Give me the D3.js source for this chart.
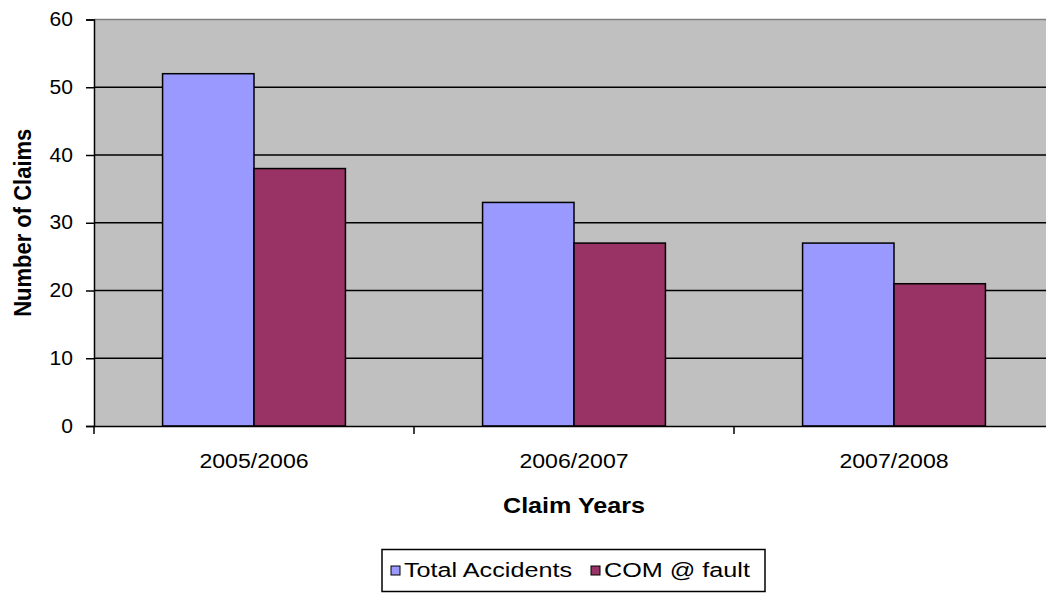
<!DOCTYPE html>
<html>
<head>
<meta charset="utf-8">
<script src="https://cdn.jsdelivr.net/npm/d3@7"></script>
<style>
  html, body { margin: 0; padding: 0; background: #fff; }
  svg { display: block; font-family: "Liberation Sans", Arial, sans-serif; }
</style>
</head>
<body>
<svg id="chart" width="1046" height="593"></svg>
<script>
// Claims per year
const categories = ["2005/2006", "2006/2007", "2007/2008"];
const seriesNames = ["Total Accidents", "COM @ fault"];
const totalAccidents = [52, 33, 27];
const comAtFault = [38, 27, 21];
const yTicks = [0, 10, 20, 30, 40, 50, 60];
const seriesColors = ["#9999FF", "#993366"];

const seriesValues = [totalAccidents, comAtFault];
const FONT = "Liberation Sans, Arial, sans-serif";

const svg = d3.select("#chart");
const plot = { left: 94, right: 1054, top: 19.5, bottom: 426 };

// widen text horizontally around its anchor point
function widen(sel, sx) {
  sel.each(function () {
    const t = d3.select(this);
    const tx = +t.attr("x") || 0, ty = +t.attr("y") || 0;
    t.attr("x", 0).attr("y", 0)
      .attr("transform", `translate(${tx},${ty}) scale(${sx},1)`);
  });
}

const x = d3.scaleBand().domain(categories).range([plot.left, plot.right]).paddingInner(0).paddingOuter(0);
const inner = d3.scaleBand().domain(seriesNames).range([0, x.bandwidth()]).paddingInner(0).paddingOuter(0.75);
const y = d3.scaleLinear().domain([0, 60]).range([plot.bottom, plot.top]);

// plot background
svg.append("rect")
  .attr("x", plot.left).attr("y", plot.top)
  .attr("width", plot.right - plot.left).attr("height", plot.bottom - plot.top)
  .attr("fill", "#C0C0C0");

// top border of the plot area
svg.append("line")
  .attr("x1", plot.left).attr("x2", plot.right)
  .attr("y1", plot.top).attr("y2", plot.top)
  .attr("stroke", "#808080").attr("stroke-width", 1.5);

// horizontal gridlines
svg.append("g").selectAll("line")
  .data(yTicks.filter(v => v > 0 && v < 60))
  .join("line")
  .attr("x1", plot.left).attr("x2", plot.right)
  .attr("y1", d => y(d)).attr("y2", d => y(d))
  .attr("stroke", "#000").attr("stroke-width", 1.5);

// bars
const groups = svg.append("g").selectAll("g")
  .data(categories)
  .join("g")
  .attr("transform", d => `translate(${x(d)},0)`);

groups.selectAll("rect")
  .data((d, i) => seriesNames.map((s, j) => ({ s, v: seriesValues[j][i], j })))
  .join("rect")
  .attr("x", d => inner(d.s))
  .attr("y", d => y(d.v))
  .attr("width", inner.bandwidth())
  .attr("height", d => y(0) - y(d.v))
  .attr("fill", d => seriesColors[d.j])
  .attr("stroke", "#000").attr("stroke-width", 1.5);

// y axis
const yAxis = d3.axisLeft(y).tickValues(yTicks).tickSize(8).tickPadding(13);
const gy = svg.append("g").attr("transform", `translate(${plot.left},0)`).call(yAxis);
gy.select(".domain").attr("stroke", "#000").attr("stroke-width", 1.5);
gy.selectAll(".tick line").attr("stroke", "#000").attr("stroke-width", 1.5);
gy.selectAll(".tick text").attr("font-size", 19.5).attr("fill", "#000")
  .attr("font-family", FONT).call(widen, 1.08);

// x axis: ticks sit on category boundaries
const xAxis = d3.axisBottom(x).tickSize(0).tickPadding(0);
const gx = svg.append("g").attr("transform", `translate(0,${plot.bottom})`).call(xAxis);
gx.select(".domain").attr("stroke", "#000").attr("stroke-width", 1.5);
gx.selectAll(".tick text")
  .attr("y", 42).attr("dy", null)
  .attr("font-size", 21).attr("fill", "#000")
  .attr("font-family", FONT).call(widen, 1.1);
svg.append("g").selectAll("line")
  .data(categories)
  .join("line")
  .attr("x1", d => x(d)).attr("x2", d => x(d))
  .attr("y1", plot.bottom).attr("y2", plot.bottom + 8)
  .attr("stroke", "#000").attr("stroke-width", 1.5);

// axis titles
svg.append("text")
  .attr("x", (plot.left + plot.right) / 2).attr("y", 513)
  .attr("text-anchor", "middle")
  .attr("font-size", 21.5).attr("font-weight", "bold")
  .text("Claim Years")
  .call(widen, 1.17);

svg.append("text")
  .attr("transform", `translate(31,${(plot.top + plot.bottom) / 2}) rotate(-90) scale(1,1.12)`)
  .attr("text-anchor", "middle")
  .attr("font-size", 22).attr("font-weight", "bold")
  .text("Number of Claims");

// legend
const legend = svg.append("g");
legend.append("rect")
  .attr("x", 382).attr("y", 549.5).attr("width", 383).attr("height", 42)
  .attr("fill", "#fff").attr("stroke", "#000").attr("stroke-width", 1.5);

const legendItems = legend.selectAll("g.item")
  .data(seriesNames)
  .join("g").attr("class", "item");

const legendX = [391, 591];
legendItems.append("rect")
  .attr("x", (d, i) => legendX[i]).attr("y", 566)
  .attr("width", 9).attr("height", 9)
  .attr("fill", (d, i) => seriesColors[i])
  .attr("stroke", "#000").attr("stroke-width", 1);
legendItems.append("text")
  .attr("x", (d, i) => legendX[i] + 13).attr("y", 577)
  .attr("font-size", 21)
  .text(d => d)
  .call(widen, 1.2);
</script>
</body>
</html>
